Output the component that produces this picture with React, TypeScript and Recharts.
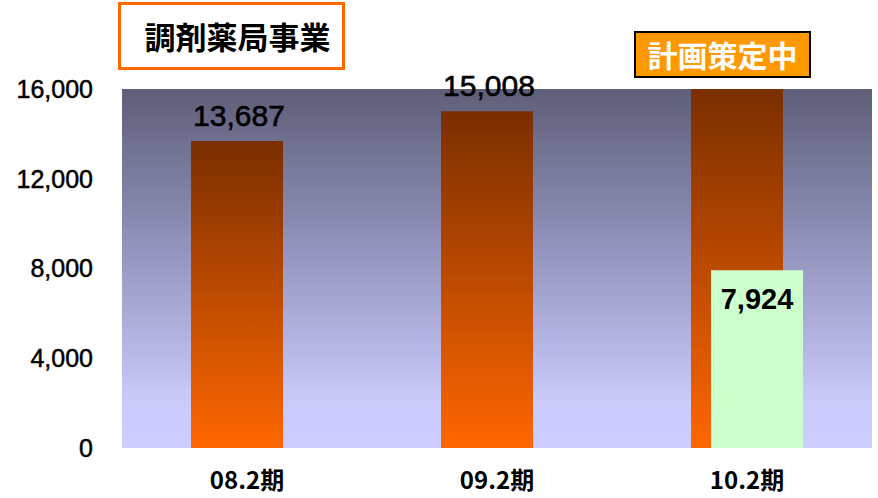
import { BarChart, Bar, XAxis, YAxis, CartesianGrid, LabelList } from 'recharts';

// 調剤薬局事業 売上推移（百万円）
const periods = ['08.2期', '09.2期', '10.2期'];
const actualValues = [13687, 15008, 16000];
const planValues: (number | null)[] = [null, null, 7924];
const yTicks = [0, 4000, 8000, 12000, 16000];
const yMax = 16000;

const data = periods.map((period, i) => ({
  period,
  actual: actualValues[i],
  plan: planValues[i],
}));

const numFont = '"Liberation Sans", Arial, sans-serif';
const jpFont = '"Noto Sans CJK JP", "Liberation Sans", sans-serif';

const fmt = (v: number) => v.toLocaleString('en-US');

// bars that run past the top of the axis get no label
const ActualLabel = (props: any) => {
  const { x, y, width, value } = props;
  if (value == null || value >= yMax) return null;
  return (
    <text
      x={x + width / 2 + 2}
      y={y - 15}
      textAnchor="middle"
      fontFamily={numFont}
      fontSize={30}
      fill="#000"
      stroke="#000"
      strokeWidth={0.6}
    >
      {fmt(value)}
    </text>
  );
};

const PlanLabel = (props: any) => {
  const { x, y, width, value } = props;
  if (value == null) return null;
  return (
    <text
      x={x + width / 2}
      y={y + 39}
      textAnchor="middle"
      fontFamily={numFont}
      fontSize={29}
      fontWeight="bold"
      fill="#000"
    >
      {fmt(value)}
    </text>
  );
};

export default function App() {
  return (
    <div style={{ position: 'absolute', left: 0, top: 0, width: 878, height: 498, background: '#fff' }}>
      <BarChart
        width={878}
        height={498}
        data={data}
        margin={{ top: 89, right: 6, bottom: 0, left: 22 }}
        barSize={92}
        barGap={-72}
      >
        <defs>
          <linearGradient id="bgGrad" x1="0" y1="0" x2="0" y2="1">
            <stop offset="0%" stopColor="#5E5E78" />
            <stop offset="45%" stopColor="#9494BE" />
            <stop offset="88%" stopColor="#CBCBFD" />
            <stop offset="100%" stopColor="#CCCCFF" />
          </linearGradient>
          <linearGradient id="orangeGrad" x1="0" y1="0" x2="0" y2="1">
            <stop offset="0%" stopColor="#7A2E00" />
            <stop offset="100%" stopColor="#FF6600" />
          </linearGradient>
        </defs>
        <CartesianGrid fill="url(#bgGrad)" stroke="none" strokeOpacity={0} />
        <XAxis
          dataKey="period"
          height={50}
          axisLine={false}
          tickLine={false}
          tickSize={0}
          tickMargin={24}
          tick={{ fontFamily: jpFont, fontSize: 24, fontWeight: 'bold', fill: '#000' }}
        />
        <YAxis
          width={100}
          domain={[0, yMax]}
          ticks={yTicks}
          allowDataOverflow
          axisLine={false}
          tickLine={false}
          tickSize={0}
          tickMargin={29}
          tickFormatter={fmt}
          tick={{ fontFamily: numFont, fontSize: 25, fill: '#000', stroke: '#000', strokeWidth: 0.5 }}
        />
        <Bar dataKey="actual" fill="url(#orangeGrad)" isAnimationActive={false}>
          <LabelList dataKey="actual" content={<ActualLabel />} />
        </Bar>
        <Bar dataKey="plan" fill="#CCFFCC" isAnimationActive={false}>
          <LabelList dataKey="plan" content={<PlanLabel />} />
        </Bar>
      </BarChart>

      <div
        style={{
          position: 'absolute',
          left: 118,
          top: 2,
          width: 221,
          height: 62,
          border: '3px solid #FF6600',
          background: '#fff',
          fontFamily: jpFont,
          fontWeight: 'bold',
          fontSize: 31,
          lineHeight: '62px',
          textAlign: 'center',
          color: '#000',
          boxSizing: 'content-box',
        }}
      >
        <span style={{ position: 'relative', left: 6 }}>調剤薬局事業</span>
      </div>

      <div
        style={{
          position: 'absolute',
          left: 634,
          top: 31,
          width: 173,
          height: 43,
          border: '2px solid #000',
          background: '#FF9900',
          fontFamily: jpFont,
          fontWeight: 'bold',
          fontSize: 30,
          lineHeight: '43px',
          textAlign: 'center',
          color: '#fff',
        }}
      >
        計画策定中
      </div>
    </div>
  );
}
